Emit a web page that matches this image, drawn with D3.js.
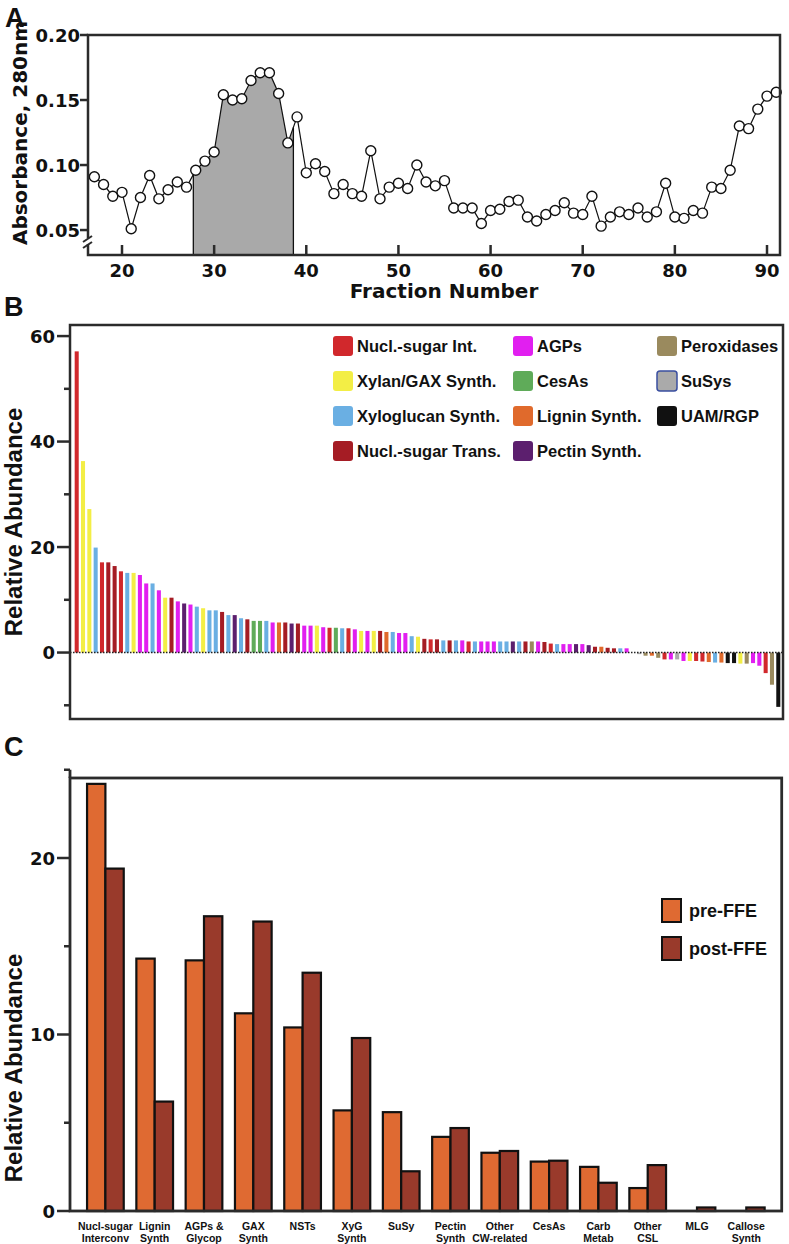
<!DOCTYPE html>
<html><head><meta charset="utf-8">
<script src="https://cdn.jsdelivr.net/npm/d3@7"></script>
<style>body{margin:0;background:#fff}svg{display:block}</style>
</head><body><svg id="c" width="789" height="1244"></svg>
<script>
// ---------- Panel A data ----------
const fractions = [17,18,19,20,21,22,23,24,25,26,27,28,29,30,31,32,33,34,35,36,37,38,39,40,41,42,43,44,45,46,47,48,49,
  50,51,52,53,54,55,56,57,58,59,60,61,62,63,64,65,66,67,68,69,70,71,72,73,74,75,76,77,78,79,80,81,82,83,84,85,86,87,88,89,90,91];
const absorbance = [0.091,0.085,0.076,0.079,0.051,0.075,0.092,0.074,0.081,0.087,0.083,0.096,0.103,0.110,0.154,0.150,0.151,0.165,0.171,0.171,0.155,0.117,0.137,0.094,0.101,0.095,0.078,0.085,0.078,0.076,0.111,0.074,0.083,
  0.086,0.082,0.100,0.087,0.084,0.088,0.067,0.067,0.067,0.055,0.065,0.066,0.072,0.073,0.060,0.057,0.062,0.065,0.071,0.063,0.062,0.076,0.053,0.060,0.064,0.062,0.067,0.060,0.064,0.086,0.060,0.059,0.065,0.063,0.083,0.082,0.096,0.130,0.128,0.143,0.153,0.156];
const shadeRange = [27.74, 38.6];
const aYTicks = [0.05, 0.10, 0.15, 0.20];
const aXTicks = [20, 30, 40, 50, 60, 70, 80, 90];

// ---------- Panel B data ----------
const catKeys   = ["I","A","O","Y","C","S","X","L","U","T","P"];
const catNames  = ["Nucl.-sugar Int.","AGPs","Peroxidases","Xylan/GAX Synth.","CesAs","SuSys","Xyloglucan Synth.","Lignin Synth.","UAM/RGP","Nucl.-sugar Trans.","Pectin Synth."];
const catColors = ["#d1282c","#e11ff0","#9a8a5e","#f3ee45","#5fab59","#aaaaaa","#6aafe3","#e06a2c","#111111","#a51c24","#5c1f6e"];
const bKeys = ("I Y Y X I T T I X Y A A X A Y T A P A X Y X X T X P X T C C " +
  "X A L T P T A A Y A I C X I A Y A Y T L X A A X Y T I T X T " +
  "X A I X A A A X X P X T O A T I X A A P A P T L T T X A O S " +
  "O L O I A S A Y I I L X L U U Y O A A I O U").split(" ");
const bValues = [57.1,36.3,27.2,19.9,17.1,17.1,16.4,15.4,15.1,15.1,
  14.7,13.1,13.1,11.8,10.4,10.4,9.7,9.3,9.1,8.7,
  8.4,8.0,8.0,7.7,7.1,7.1,6.5,6.3,6.0,6.0,
  6.0,5.7,5.7,5.7,5.5,5.5,5.1,5.1,5.1,4.8,
  4.7,4.7,4.6,4.6,4.4,4.1,4.1,4.1,4.1,3.9,
  3.9,3.7,3.7,3.1,3.0,2.6,2.5,2.5,2.3,2.3,
  2.3,2.3,2.1,2.1,2.1,2.1,2.1,2.1,2.1,2.1,
  2.1,2.1,2.1,2.1,2.0,1.7,1.6,1.6,1.6,1.6,
  1.6,1.4,1.1,1.1,0.9,0.8,0.8,0.8,0,-0.3,
  -0.6,-0.6,-1.0,-1.3,-1.3,-1.3,-1.6,-1.6,-1.6,-1.7,
  -1.8,-1.9,-1.9,-2.0,-2.0,-2.1,-2.1,-2.0,-2.5,-3.9,
  -6.1,-10.3];
const bMajorTicks = [0, 20, 40, 60];
const bMinorTicks = [-10, 10, 30, 50];

// ---------- Panel C data ----------
const cLabels = [["Nucl-sugar","Interconv"],["Lignin","Synth"],["AGPs &","Glycop"],["GAX","Synth"],["NSTs"],["XyG","Synth"],["SuSy"],
  ["Pectin","Synth"],["Other","CW-related"],["CesAs"],["Carb","Metab"],["Other","CSL"],["MLG"],["Callose","Synth"]];
const cPre  = [24.2,14.3,14.2,11.2,10.4,5.7,5.6,4.2,3.3,2.8,2.5,1.3,0,0];
const cPost = [19.4,6.2,16.7,16.4,13.5,9.8,2.25,4.7,3.4,2.85,1.6,2.6,0.2,0.2];
const cSeries = ["pre-FFE","post-FFE"];
const cColors = ["#df6a32","#993a2b"];
const cMajorTicks = [0, 10, 20];
const cMinorTicks = [5, 15, 25];

// ---------- drawing ----------
const svg = d3.select("#c");
const FR = "#2b2b2b";
const SANS = "'Liberation Sans', Arial, sans-serif";
const WIDE = "'DejaVu Sans', sans-serif";

function txt(g, x, y, s, size, fam, anchor) {
  return g.append("text").attr("x", x).attr("y", y).text(s)
    .attr("font-family", fam).attr("font-weight", "bold").attr("font-size", size)
    .attr("text-anchor", anchor || "start").attr("fill", "#111");
}

// Panel letters
txt(svg, 5, 27, "A", 27, SANS);
txt(svg, 4, 316, "B", 27, SANS);
txt(svg, 4, 756, "C", 27, SANS);

// ===== Panel A =====
const A = {l: 88, r: 780, t: 35, b: 255};
const ax = d3.scaleLinear().domain([16.31, 91.41]).range([A.l, A.r]);
const ay = d3.scaleLinear().domain([0.0308, 0.20]).range([A.b, A.t]);
const aData = fractions.map((f, i) => ({f, v: absorbance[i]}));
const gA = svg.append("g");

svg.append("defs").append("clipPath").attr("id", "shadeClip")
  .append("rect").attr("x", ax(shadeRange[0])).attr("y", A.t)
  .attr("width", ax(shadeRange[1]) - ax(shadeRange[0])).attr("height", A.b - A.t);
gA.append("path").datum(aData).attr("clip-path", "url(#shadeClip)")
  .attr("d", d3.area().x(d => ax(d.f)).y0(A.b).y1(d => ay(d.v)))
  .attr("fill", "#a9a9a9");
function valueAt(f) {
  const i = d3.bisectRight(fractions, f) - 1;
  const t = (f - fractions[i]) / (fractions[i + 1] - fractions[i]);
  return absorbance[i] + t * (absorbance[i + 1] - absorbance[i]);
}
shadeRange.forEach(f => {
  gA.append("line").attr("x1", ax(f)).attr("x2", ax(f)).attr("y1", A.b).attr("y2", ay(valueAt(f)))
    .attr("stroke", "#111").attr("stroke-width", 1.3);
});
gA.append("path").datum(aData).attr("fill", "none").attr("stroke", "#111").attr("stroke-width", 1.2)
  .attr("d", d3.line().x(d => ax(d.f)).y(d => ay(d.v)));
gA.selectAll("circle").data(aData).join("circle")
  .attr("cx", d => ax(d.f)).attr("cy", d => ay(d.v)).attr("r", 5)
  .attr("fill", "#fff").attr("stroke", "#111").attr("stroke-width", 1.4);
gA.append("rect").attr("x", A.l).attr("y", A.t).attr("width", A.r - A.l).attr("height", A.b - A.t)
  .attr("fill", "none").attr("stroke", FR).attr("stroke-width", 2.5);
// axis break
gA.append("rect").attr("x", A.l - 3).attr("y", 238).attr("width", 6).attr("height", 6).attr("fill", "#fff");
[[236, 242], [242, 248]].forEach(([y1, y2]) => {
  gA.append("line").attr("x1", A.l - 5).attr("y1", y2).attr("x2", A.l + 4).attr("y2", y1)
    .attr("stroke", FR).attr("stroke-width", 2);
});
aYTicks.forEach(v => {
  gA.append("line").attr("x1", A.l - 8).attr("x2", A.l).attr("y1", ay(v)).attr("y2", ay(v)).attr("stroke", FR).attr("stroke-width", 2.5);
  txt(gA, A.l - 8, ay(v) + 6.5, d3.format(".2f")(v), 18, WIDE, "end");
});
aXTicks.forEach(v => {
  gA.append("line").attr("x1", ax(v)).attr("x2", ax(v)).attr("y1", A.b - 10).attr("y2", A.b).attr("stroke", FR).attr("stroke-width", 2.5);
  txt(gA, ax(v), 277, v, 18, WIDE, "middle");
});
txt(gA, 444, 298, "Fraction Number", 20, WIDE, "middle");
txt(gA, 0, 0, "Absorbance, 280nm", 20, WIDE, "middle").attr("transform", "translate(27,133) rotate(-90)");

// ===== Panel B =====
const B = {l: 70, r: 783, t: 325, b: 719};
const bx = d3.scaleBand().domain(d3.range(bValues.length)).range([73.5, 781.5]).paddingInner(0.36).paddingOuter(0.186);
const by = d3.scaleLinear().domain([-12.6, 62.1]).range([B.b, B.t]);
const colorOf = d3.scaleOrdinal().domain(catKeys).range(catColors);
const gB = svg.append("g");
gB.selectAll("rect.bar").data(bValues).join("rect").attr("class", "bar")
  .attr("x", (d, i) => bx(i)).attr("width", bx.bandwidth())
  .attr("y", d => by(Math.max(0, d))).attr("height", d => Math.abs(by(d) - by(0)))
  .attr("fill", (d, i) => colorOf(bKeys[i]));
gB.append("line").attr("x1", B.l).attr("x2", B.r).attr("y1", by(0)).attr("y2", by(0))
  .attr("stroke", "#222").attr("stroke-width", 1.6).attr("stroke-dasharray", "1.5,1.5");
gB.append("rect").attr("x", B.l).attr("y", B.t).attr("width", B.r - B.l).attr("height", B.b - B.t)
  .attr("fill", "none").attr("stroke", FR).attr("stroke-width", 2.5);
bMajorTicks.forEach(v => {
  gB.append("line").attr("x1", B.l - 13).attr("x2", B.l).attr("y1", by(v)).attr("y2", by(v)).attr("stroke", FR).attr("stroke-width", 2.5);
  txt(gB, B.l - 15, by(v) + 6.5, v, 18, WIDE, "end");
});
bMinorTicks.forEach(v => {
  gB.append("line").attr("x1", B.l - 6).attr("x2", B.l).attr("y1", by(v)).attr("y2", by(v)).attr("stroke", FR).attr("stroke-width", 2.5);
});
txt(gB, 0, 0, "Relative Abundance", 24, SANS, "middle").attr("transform", "translate(21.5,522) rotate(-90)");
// legend
const legX = [333, 513, 657], legY = [346, 381, 416, 451];
catNames.forEach((name, i) => {
  const cx0 = legX[i % 3], cy0 = legY[Math.floor(i / 3)];
  gB.append("rect").attr("x", cx0).attr("y", cy0 - 10).attr("width", 20).attr("height", 20).attr("rx", 3)
    .attr("fill", catColors[i]).attr("stroke", catKeys[i] === "S" ? "#3a4fa0" : "none").attr("stroke-width", 1.5);
  txt(gB, cx0 + 24, cy0 + 6, name, 16.5, SANS);
});

// ===== Panel C =====
const C = {l: 70, r: 781.7, t: 778, b: 1211};
const cx = d3.scaleBand().domain(d3.range(cLabels.length)).range([C.l, C.r]).paddingInner(0.256).paddingOuter(0.346);
const cy = d3.scaleLinear().domain([0, 25]).range([C.b, C.b - 25 * 17.65]);
const gC = svg.append("g");
[cPre, cPost].forEach((arr, s) => {
  gC.selectAll("rect.s" + s).data(arr).join("rect").attr("class", "s" + s)
    .attr("x", (d, i) => cx(i) + s * cx.bandwidth() / 2).attr("width", cx.bandwidth() / 2)
    .attr("y", d => cy(d)).attr("height", d => cy(0) - cy(d))
    .attr("fill", cColors[s]).attr("stroke", d => d > 0 ? "#111" : "none").attr("stroke-width", 2.2);
});
gC.append("rect").attr("x", C.l).attr("y", C.t).attr("width", C.r - C.l).attr("height", C.b - C.t)
  .attr("fill", "none").attr("stroke", FR).attr("stroke-width", 2.8);
gC.append("line").attr("x1", C.l).attr("x2", C.l).attr("y1", cy(25)).attr("y2", C.t).attr("stroke", FR).attr("stroke-width", 2.8);
cMajorTicks.forEach(v => {
  gC.append("line").attr("x1", C.l - 13).attr("x2", C.l).attr("y1", cy(v)).attr("y2", cy(v)).attr("stroke", FR).attr("stroke-width", 2.5);
  txt(gC, C.l - 15, cy(v) + 6.5, v, 18, WIDE, "end");
});
cMinorTicks.forEach(v => {
  gC.append("line").attr("x1", C.l - 6).attr("x2", C.l).attr("y1", cy(v)).attr("y2", cy(v)).attr("stroke", FR).attr("stroke-width", 2.5);
});
cLabels.forEach((lines, i) => {
  lines.forEach((s, j) => txt(gC, cx(i) + cx.bandwidth() / 2, 1229.5 + j * 12, s, 10.5, SANS, "middle"));
});
txt(gC, 0, 0, "Relative Abundance", 24, SANS, "middle").attr("transform", "translate(22,1068) rotate(-90)");
cSeries.forEach((name, s) => {
  const y0 = 899 + s * 38;
  gC.append("rect").attr("x", 662).attr("y", y0).attr("width", 19).attr("height", 23)
    .attr("fill", cColors[s]).attr("stroke", "#111").attr("stroke-width", 2);
  txt(gC, 689, y0 + 18, name, 18, SANS);
});
</script></body></html>
